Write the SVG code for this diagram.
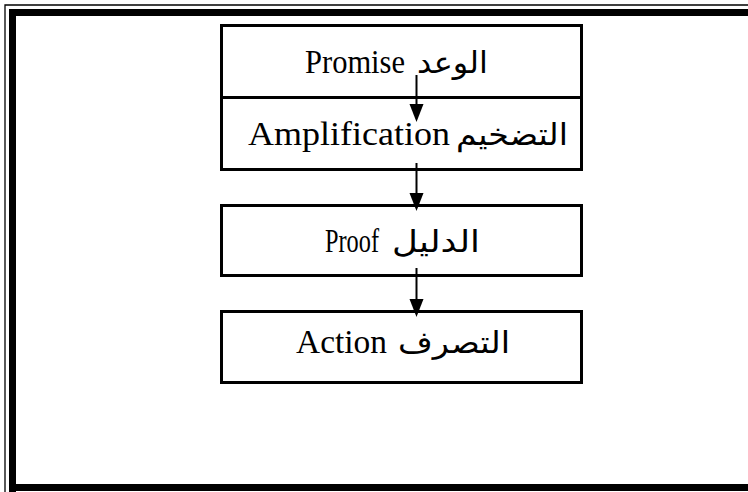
<svg xmlns="http://www.w3.org/2000/svg" width="748" height="492" viewBox="0 0 748 492">
<style>
.frame{fill:none;stroke:#000}
.box{fill:#fff;stroke:#000;stroke-width:3}
.en{font-family:"Liberation Serif","Times New Roman",serif;font-size:33px;fill:#000}
.ar{font-family:"Liberation Serif","DejaVu Sans","Noto Sans",serif;font-size:30px;fill:#000}
.conn line{stroke:#000;stroke-width:2}
.conn polygon{fill:#000}
</style>
<rect width="748" height="492" fill="#fff"/>
<g id="frame">
<path class="frame" d="M5,492 V5 H748" stroke-width="1.3"/>
<path class="frame" d="M12.5,492 V12.5 H760 M12.5,487.5 H760" stroke-width="7"/>
</g>
<g id="promise">
<rect class="box" x="221.5" y="25.5" width="360" height="72"/>
<text class="en" x="305" y="73" textLength="100" lengthAdjust="spacingAndGlyphs">Promise</text>
<text class="ar" x="417" y="73" textLength="71" lengthAdjust="spacingAndGlyphs">الوعد</text>
</g>
<g id="amplification">
<rect class="box" x="221.5" y="97.5" width="360" height="72"/>
<text class="en" x="248" y="145" textLength="202" lengthAdjust="spacingAndGlyphs">Amplification</text>
<text class="ar" x="456" y="145" textLength="112" lengthAdjust="spacingAndGlyphs">التضخيم</text>
</g>
<g id="proof">
<rect class="box" x="221.5" y="205.5" width="360" height="70"/>
<text class="en" x="325" y="252" textLength="54" lengthAdjust="spacingAndGlyphs">Proof</text>
<text class="ar" x="392" y="252" textLength="88" lengthAdjust="spacingAndGlyphs">الدليل</text>
</g>
<g id="action">
<rect class="box" x="221.5" y="311.5" width="360" height="71"/>
<text class="en" x="296" y="353" textLength="91" lengthAdjust="spacingAndGlyphs">Action</text>
<text class="ar" x="398" y="353" textLength="112" lengthAdjust="spacingAndGlyphs">التصرف</text>
</g>
<g id="connectors" class="conn">
<line x1="416.5" y1="75" x2="416.5" y2="105"/>
<polygon points="409.5,104 423.5,104 416.5,122"/>
<line x1="416.5" y1="163" x2="416.5" y2="194"/>
<polygon points="409.5,193 423.5,193 416.5,211"/>
<line x1="416.5" y1="268" x2="416.5" y2="300"/>
<polygon points="409.5,299 423.5,299 416.5,317"/>
</g>
</svg>
